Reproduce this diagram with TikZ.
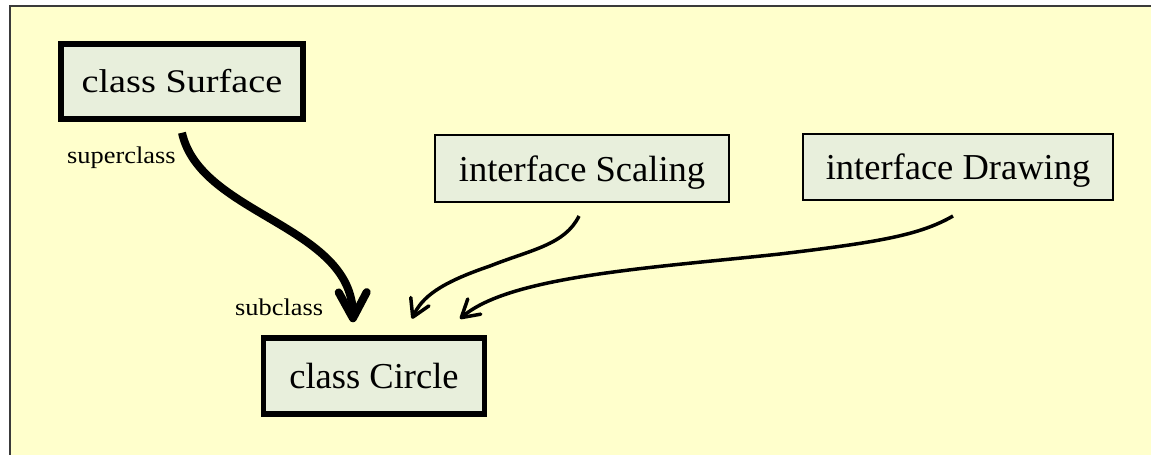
\documentclass[tikz,border=0pt]{standalone}
\usepackage{fontspec}
\usepackage{graphicx}
\setmainfont{Liberation Serif}
\usetikzlibrary{arrows.meta}

\definecolor{panel}{HTML}{FFFFCC}
\definecolor{boxfill}{HTML}{E8EFDC}
\definecolor{rim}{HTML}{3A3A3A}

\begin{document}
\begin{tikzpicture}[x=1pt,y=-1pt,
  classbox/.style={draw=black, line width=5.5pt, fill=boxfill, inner sep=0pt,
    font=\fontsize{36.5}{40}\selectfont},
  ifacebox/.style={draw=black, line width=2pt, fill=boxfill, inner sep=0pt,
    text depth=0pt, font=\fontsize{36.5}{40}\selectfont},
  rolelabel/.style={inner sep=0pt, anchor=base west, font=\fontsize{24}{28}\selectfont},
  inherit/.style={line width=8pt, -{Straight Barb[length=26pt,width=28pt,round]}},
  implement/.style={line width=3.5pt, -{Straight Barb[length=17pt,width=20pt,round]}},
]
% page and panel
\useasboundingbox (0,0) rectangle (1151,455);
\fill[white] (0,0) rectangle (1151,455);
\fill[panel] (10,6) rectangle (1151,455);
\draw[rim, line width=1.6pt] (10,455) -- (10,6) -- (1151,6);

% classes and interfaces
\node[classbox, minimum width=242pt, minimum height=75pt] (surface) at (182,81.5)
  {\fontsize{33}{38}\selectfont\scalebox{1.16}[1]{class Surface}};
\node[classbox, minimum width=221pt, minimum height=76pt] (circle) at (374,376)
  {class Circle};
\node[ifacebox, minimum width=294pt, minimum height=67pt] (scaling) at (582,168.5)
  {interface Scaling};
\node[ifacebox, minimum width=310pt, minimum height=66pt] (drawing) at (958,167)
  {interface Drawing};

% role labels
\node[rolelabel] (super) at (67,163.5) {\scalebox{1.1}[1]{superclass}};
\node[rolelabel] (sub) at (235,315) {\scalebox{1.1}[1]{subclass}};

% connector end points
\coordinate (s0) at ([yshift=-11pt]surface.south);
\coordinate (c0) at ([xshift=-21pt,yshift=13pt]circle.north);
\coordinate (s1) at ([xshift=-3pt,yshift=-13pt]scaling.south);
\coordinate (c1) at ([xshift=38pt,yshift=16.5pt]circle.north);
\coordinate (s2) at ([xshift=-5pt,yshift=-15pt]drawing.south);
\coordinate (c2) at ([xshift=86pt,yshift=16.5pt]circle.north);

% inheritance
\draw[inherit] (s0) .. controls (200,215) and (352,225) .. (c0);
% implemented interfaces
\draw[implement] (s1) .. controls (565,245) and (530,250) .. (490,266)
  .. controls (440,283) and (422,297) .. (c1);
\draw[implement] (s2) .. controls (920,235) and (880,242) .. (780,254)
  .. controls (650,268) and (510,276) .. (c2);
\end{tikzpicture}
\end{document}
